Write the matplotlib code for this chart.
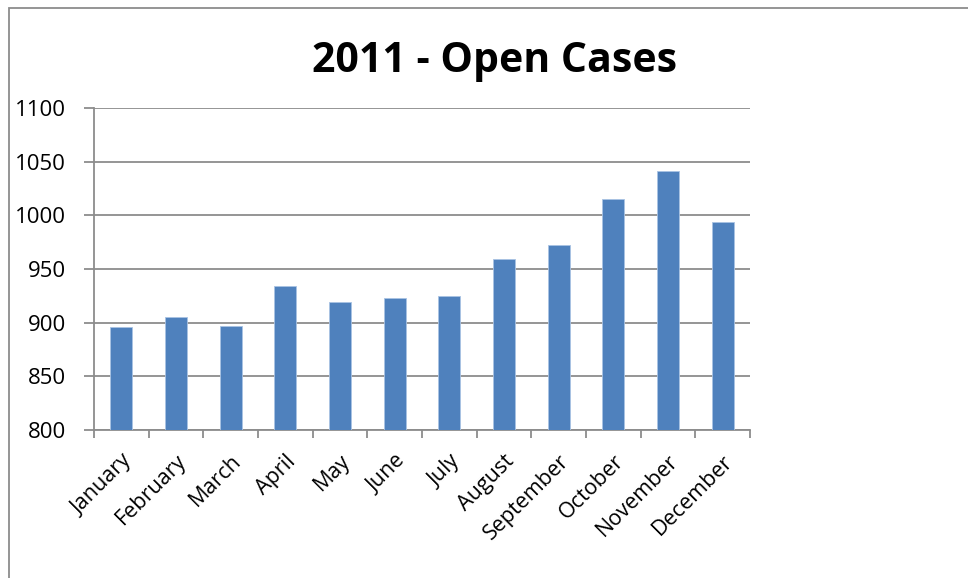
import matplotlib
matplotlib.use("Agg")
import matplotlib.pyplot as plt
import numpy as np
from matplotlib.patches import Rectangle

months = ["January", "February", "March", "April", "May", "June", "July",
          "August", "September", "October", "November", "December"]
open_cases = [896, 905, 897, 934, 919, 923, 925, 959, 972, 1015, 1041, 994]
yticks = [800, 850, 900, 950, 1000, 1050, 1100]

plt.rcParams['font.family'] = ['Open Sans', 'DejaVu Sans']

W, H = 968, 578
fig = plt.figure(figsize=(W / 100, H / 100), dpi=100)
ax = fig.add_axes([94 / W, 1 - 430 / H, (750 - 94) / W, (430 - 108) / H])

# chart border
fig.patches.append(Rectangle((9 / W, -0.1), 1.2, 1 - 8 / H + 0.1, transform=fig.transFigure,
                             fill=False, edgecolor='#8c8c8c', linewidth=1.3))

x = np.arange(len(months))
ax.bar(x, open_cases, width=0.4, color='#4F81BD', zorder=3, edgecolor='#a9c3e3', linewidth=0.6)

ax.set_xlim(-0.5, len(months) - 0.5)
ax.set_ylim(800, 1100)
ax.set_yticks(yticks)
ax.set_yticklabels([str(v) for v in yticks], fontsize=16)
ax.yaxis.grid(True, color='#8c8c8c', linewidth=1.3, zorder=0)
ax.set_axisbelow(True)

ax.set_xticks(x)
ax.set_xticklabels(months, rotation=45, ha='right', rotation_mode='anchor', fontsize=15.5)
ax.set_xticks(np.arange(-0.5, len(months)), minor=True)
ax.tick_params(axis='x', which='major', length=0, pad=15)
ax.tick_params(axis='x', which='minor', length=6, color='#8c8c8c', width=1.3, direction='out')
ax.tick_params(axis='y', length=7, color='#8c8c8c', width=1.3, direction='out', pad=13)

for s in ['top', 'right']:
    ax.spines[s].set_visible(False)
for s in ['left', 'bottom']:
    ax.spines[s].set_color('#8c8c8c')
    ax.spines[s].set_linewidth(1.3)

fig.text(495 / W, 1 - 62 / H, "2011 - Open Cases", ha='center', va='center',
         fontsize=29.5, fontweight='bold')

fig.savefig("out.png", dpi=100)
